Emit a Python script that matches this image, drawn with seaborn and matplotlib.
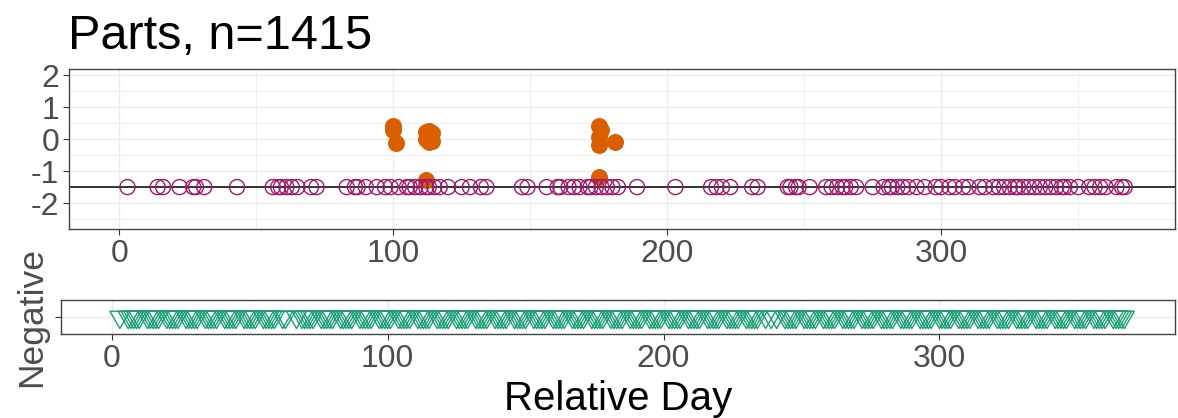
import numpy as np
import pandas as pd
import matplotlib
matplotlib.use("Agg")
import matplotlib.pyplot as plt
from matplotlib.path import Path
from matplotlib.markers import MarkerStyle
import seaborn as sns

# ---------------- data ----------------
title_text = "Parts, n=1415"
x_label = "Relative Day"
negative_label = ["Negative"]

# positive parts below detection (drawn as open circles on the reference line)
circle_days = [3, 14, 16, 22, 27, 28, 31, 43, 56, 58, 59, 61, 63, 65, 70, 72, 83, 86, 87, 90, 94,
               97, 99, 102, 105, 106, 108, 110, 112, 113, 115, 117, 120, 125, 128, 132, 134,
               147, 149, 156, 160, 161, 164, 166, 168, 171, 172, 174, 176, 178, 180, 182, 189,
               203, 216, 218, 220, 223, 231, 233, 244, 245, 247, 248, 252, 258, 260, 262, 264,
               265, 267, 269, 275, 279, 281, 282, 284, 286, 288,
               291, 294, 298, 300, 303, 305, 308, 310, 314, 316, 319, 321, 323, 325, 327, 328,
               330, 332, 334, 336, 338, 340, 342, 344, 345, 347, 350, 354, 356, 358, 360, 364,
               366, 367]
circle_value = -1.5
reference_line = -1.5

# quantified positive parts (filled orange)
orange_days = [100, 100, 101, 112, 113, 114, 112, 113, 114, 113, 112,
               175, 176, 175, 175, 181, 175]
orange_values = [0.42, 0.28, -0.12, 0.22, 0.25, 0.18, 0.00, 0.05, -0.05, -0.10, -1.28,
                 0.40, 0.28, 0.05, -0.20, -0.08, -1.18]

# negative parts (days)
negative_days = [3,
    6, 7, 8, 9, 10, 13, 14, 15, 16, 17, 20, 21, 22, 23, 24, 27, 28, 29, 30, 31,
    34, 35, 36, 37, 38, 41, 42, 43, 44, 45, 48, 49, 50, 51, 52, 55, 56, 57, 58, 59,
    62, 63, 67, 69, 70, 71, 72, 73, 76, 77, 78, 79, 80, 83, 84, 85, 86, 87,
    90, 91, 92, 93, 94, 97, 98, 99, 100, 101, 104, 105, 106, 107, 108,
    111, 112, 113, 114, 115, 118, 119, 120, 121, 122, 125, 126, 127, 128, 129,
    132, 133, 134, 135, 136, 139, 140, 141, 142, 143, 146, 147, 148, 149, 150,
    153, 154, 155, 156, 157, 160, 161, 162, 163, 164, 167, 168, 169, 170, 171,
    174, 175, 176, 177, 178, 181, 182, 183, 184, 185, 188, 189, 190, 191, 192,
    195, 196, 197, 198, 199, 202, 203, 204, 205, 206, 209, 210, 211, 212, 213,
    216, 217, 218, 219, 220, 223, 224, 225, 226, 227, 230, 231, 232, 233, 234,
    237, 239, 241, 244, 245, 246, 247, 248, 251, 252, 253, 254, 255,
    258, 259, 260, 261, 262, 265, 266, 267, 268, 269, 272, 273, 274, 275, 276,
    279, 280, 281, 282, 283, 286, 287, 288, 289, 290, 293, 294, 295, 296, 297,
    300, 301, 302, 303, 304, 307, 308, 309, 310, 311, 314, 315, 316, 317, 318,
    321, 322, 323, 324, 325, 328, 329, 330, 331, 332, 335, 336, 337, 338, 339,
    342, 343, 344, 345, 346, 349, 350, 351, 352, 353, 356, 357, 358, 359, 360,
    363, 364, 365, 366, 367]

x_major = [0, 100, 200, 300]
x_minor = [50, 150, 250, 350]
y_major = [-2, -1, 0, 1, 2]
y_minor = [-2.5, -1.5, -0.5, 0.5, 1.5]
y_tick_labels = ["-2", "-1", "0", "1", "2"]

# ---------------- style ----------------
sns.set_theme(style="white")
plt.rcParams["font.family"] = ["Liberation Sans", "DejaVu Sans"]

circle_color = "#A0176B"
orange_color = "#D95F02"
green_color = "#1B9E77"
grid_color = "#EBEBEB"
border_color = "#444444"
tick_label_color = "#4D4D4D"

W, H = 1178, 418
fig = plt.figure(figsize=(W / 100, H / 100), dpi=100)
ax1 = fig.add_axes([69 / W, 1 - 229 / H, (1175 - 69) / W, (229 - 69) / H])
ax2 = fig.add_axes([61 / W, 1 - 334 / H, (1175 - 61) / W, 34 / H])

xlim = (-18.35, 385.35)

pos_df = pd.DataFrame({"day": circle_days, "value": [circle_value] * len(circle_days)})
orange_df = pd.DataFrame({"day": orange_days, "value": orange_values})
neg_df = pd.DataFrame({"day": negative_days, "status": negative_label * len(negative_days)})

# top panel
ax1.axhline(reference_line, color="black", lw=1.1, zorder=2)
sns.scatterplot(data=orange_df, x="day", y="value", ax=ax1, color=orange_color,
                s=150, linewidth=0, edgecolor=orange_color, zorder=3, legend=False)
sns.scatterplot(data=pos_df, x="day", y="value", ax=ax1, color=circle_color,
                facecolor="none", edgecolor=circle_color, s=117, linewidth=1.0,
                zorder=4, legend=False)
ax1.set_xlim(*xlim)
ax1.set_ylim(-2.81, 2.19)
ax1.set_yticks(y_major)
ax1.set_yticklabels(y_tick_labels)
ax1.set_yticks(y_minor, minor=True)

# bottom panel
tri_verts = [(-1.0, 0.577), (1.0, 0.577), (0.0, -1.155), (-1.0, 0.577)]
tri = MarkerStyle(Path(tri_verts, [Path.MOVETO, Path.LINETO, Path.LINETO, Path.CLOSEPOLY]))
sns.scatterplot(data=neg_df, x="day", y="status", ax=ax2, marker=tri, s=277,
                color=green_color, facecolor="none", edgecolor=green_color,
                linewidth=1.0, zorder=3, legend=False)
ax2.set_xlim(*xlim)
ax2.set_ylim(-0.6, 0.6)
ax2.set_yticks([0])
ax2.set_yticklabels(negative_label, rotation=90, va="center", fontsize=25.5,
                    color=tick_label_color)

for ax in (ax1, ax2):
    ax.set_xticks(x_major)
    ax.set_xticks(x_minor, minor=True)
    ax.set_xlabel("")
    ax.set_ylabel("")
    ax.set_axisbelow(True)
    ax.grid(which="major", color=grid_color, lw=1.0)
    ax.grid(which="minor", color=grid_color, lw=0.55)
    for sp in ax.spines.values():
        sp.set_color(border_color)
        sp.set_linewidth(1.0)
        sp.set_visible(True)
    ax.tick_params(which="major", length=4, width=0.8, color="#333333",
                   labelsize=23, labelcolor=tick_label_color, pad=3,
                   left=True, bottom=True)
    ax.tick_params(which="minor", length=0)

ax2.tick_params(axis="y", labelsize=25.5, pad=5)

fig.text(68 / W, 1 - 49 / H, title_text, fontsize=35, color="black", va="baseline", ha="left")
fig.text(618 / W, 1 - 410 / H, x_label, fontsize=29, color="black", va="baseline", ha="center")

fig.savefig("out.png", dpi=100, facecolor="white")
